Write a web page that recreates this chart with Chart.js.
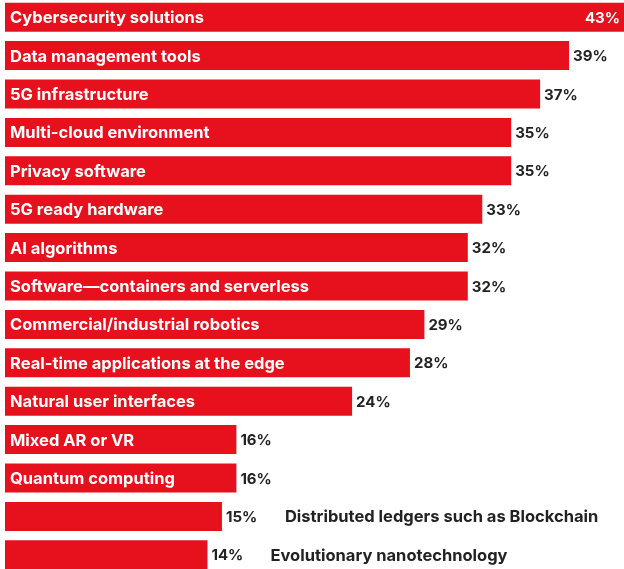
<!DOCTYPE html>
<html>
<head>
<meta charset="utf-8">
<script src="https://cdn.jsdelivr.net/npm/chart.js@4.4.1/dist/chart.umd.min.js"></script>
<style>
  html, body { margin: 0; padding: 0; background: #fff; overflow: hidden; }
  #wrap { position: relative; width: 624px; height: 576px; margin-top: -2px; }
</style>
</head>
<body>
<div id="wrap"><canvas id="chart"></canvas></div>
<script>
// Share of respondents per technology (%).
var categories = [
    'Cybersecurity solutions',
    'Data management tools',
    '5G infrastructure',
    'Multi-cloud environment',
    'Privacy software',
    '5G ready hardware',
    'AI algorithms',
    'Software\u2014containers and serverless',
    'Commercial/industrial robotics',
    'Real-time applications at the edge',
    'Natural user interfaces',
    'Mixed AR or VR',
    'Quantum computing',
    'Distributed ledgers such as Blockchain',
    'Evolutionary nanotechnology'
];
var values = [43, 39, 37, 35, 35, 33, 32, 32, 29, 28, 24, 16, 16, 15, 14];
// Labels that do not fit inside the bar are written after the value.
var outsideLabels = [false, false, false, false, false, false, false, false, false, false, false, false, false, true, true];

var RED = '#e6111d';
var LABEL_FONT = '700 16.5px Inter, "Open Sans", sans-serif';
var VALUE_FONT = '700 15px Inter, "Open Sans", sans-serif';

// Draws category names in the bars and the percentage next to each bar.
var labelsPlugin = {
    id: 'barLabels',
    afterDatasetsDraw: function(chart) {
        var ctx = chart.ctx;
        var meta = chart.getDatasetMeta(0);
        var area = chart.chartArea;
        ctx.save();
        ctx.textBaseline = 'middle';
        meta.data.forEach(function(bar, i) {
            var y = bar.y + 1;
            var txt = values[i] + '%';
            if (!outsideLabels[i]) {
                ctx.font = LABEL_FONT;
                ctx.fillStyle = '#ffffff';
                ctx.textAlign = 'left';
                ctx.fillText(categories[i], area.left + 5, y);
            }
            ctx.font = VALUE_FONT;
            if (bar.x + 50 > area.right) {
                ctx.fillStyle = '#ffffff';
                ctx.textAlign = 'right';
                ctx.fillText(txt, area.right - 4, y);
            } else {
                ctx.fillStyle = '#222222';
                ctx.textAlign = 'left';
                ctx.fillText(txt, bar.x + 4, y);
                if (outsideLabels[i]) {
                    ctx.font = LABEL_FONT;
                    ctx.fillText(categories[i], bar.x + 63, y);
                }
            }
        });
        ctx.restore();
    }
};

new Chart(document.getElementById('chart'), {
    type: 'bar',
    data: {
        labels: categories,
        datasets: [{
            data: values,
            backgroundColor: RED,
            borderWidth: 0,
            barPercentage: 0.755,
            categoryPercentage: 1
        }]
    },
    options: {
        indexAxis: 'y',
        responsive: true,
        maintainAspectRatio: false,
        animation: false,
        layout: {padding: {left: 5, right: 0, top: 0, bottom: 0}},
        scales: {
            x: {display: false, min: 0, max: 42.8},
            y: {display: false}
        },
        plugins: {
            legend: {display: false},
            tooltip: {enabled: false}
        }
    },
    plugins: [labelsPlugin]
});
</script>
</body>
</html>
